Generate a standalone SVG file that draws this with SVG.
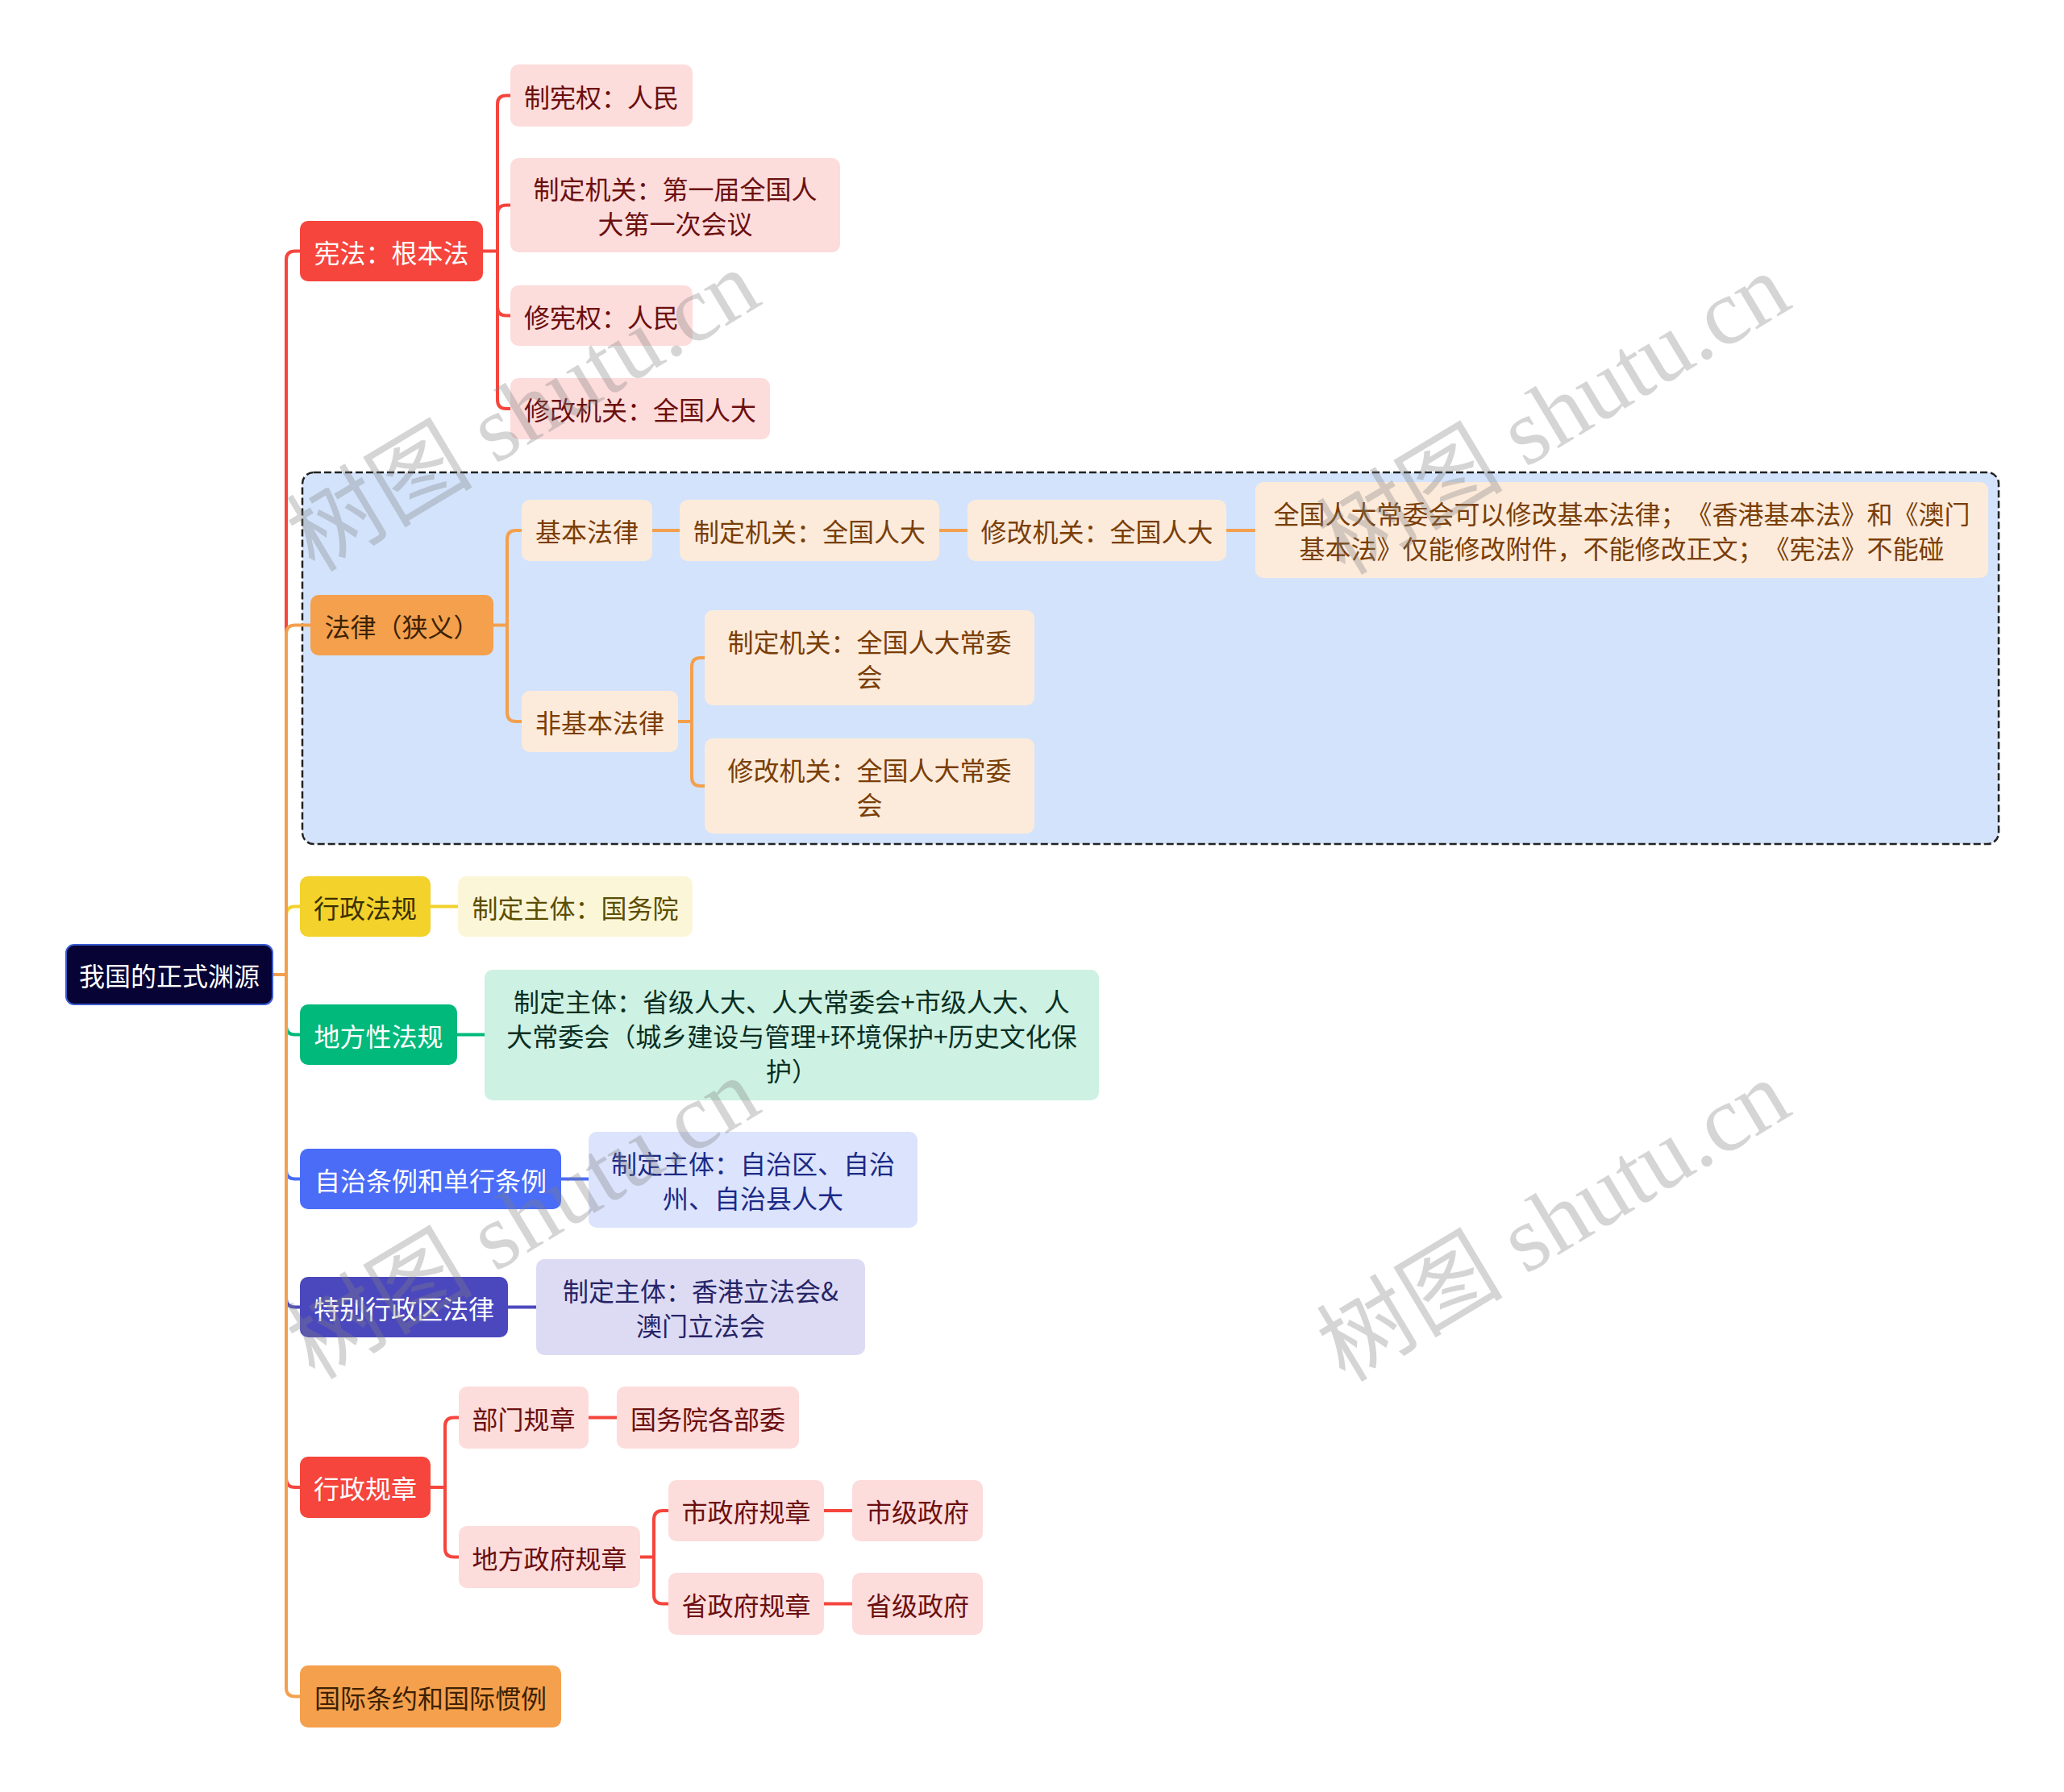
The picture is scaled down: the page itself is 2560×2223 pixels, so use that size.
<svg xmlns="http://www.w3.org/2000/svg" width="2560" height="2223" viewBox="0 0 2560 2223">
<style>
text{font-family:"Noto Sans CJK SC","Noto Sans",sans-serif;font-size:32px;text-anchor:middle;dominant-baseline:central;text-spacing-trim:space-all;font-feature-settings:"halt" 0,"chws" 0}
.c{fill:none;stroke-width:4;stroke-linecap:round}
.cr{stroke:#F5453D}.co{stroke:#F3A04E}.cy{stroke:#F2D22B}.cg{stroke:#00B97B}.cb{stroke:#4A6CF7}.ci{stroke:#4B48BE}
.root rect{fill:#070334;stroke:#3A5BD0;stroke-width:2}
.root text{fill:#fff}
.r1 rect{fill:#F5453D}.r1 text{fill:#fff}
.r2 rect{fill:#FDDCDC}.r2 text{fill:#6B0F0F}
.o1 rect{fill:#F4A04D}.o1 text{fill:#3D2104}
.o2 rect{fill:#FCEBDB}.o2 text{fill:#7A3E07}
.y1 rect{fill:#F2D22B}.y1 text{fill:#3A3000}
.y2 rect{fill:#FCF6D8}.y2 text{fill:#5C4D00}
.g1 rect{fill:#00B97B}.g1 text{fill:#fff}
.g2 rect{fill:#CDF1E2}.g2 text{fill:#0A2E22}
.b1 rect{fill:#4A6CF7}.b1 text{fill:#fff}
.b2 rect{fill:#DCE3FC}.b2 text{fill:#1B2A86}
.i1 rect{fill:#4B48BE}.i1 text{fill:#fff}
.i2 rect{fill:#DDDBF3}.i2 text{fill:#272466}
.wm{font-family:"Liberation Serif","Noto Sans CJK SC",serif;font-size:116px;fill:#808080;fill-opacity:0.33;text-anchor:middle;dominant-baseline:central}
</style>
<rect x="0" y="0" width="2560" height="2223" fill="#fff"/>
<g id="boundary">
<rect x="375" y="586" width="2104" height="461" rx="14" fill="#D3E3FB" stroke="#222" stroke-width="2.5" stroke-dasharray="9 4"/>
</g>
<g id="connectors">
<path class="c cr" d="M338 1209H355V322Q355 311.5 366 311.5H372"/>
<path class="c cy" d="M338 1209H355V1135Q355 1124.5 366 1124.5H372"/>
<path class="c co" d="M338 1209H355V786Q355 775.5 366 775.5H385"/>
<path class="c cg" d="M338 1209H355V1273Q355 1283.5 366 1283.5H372"/>
<path class="c cb" d="M338 1209H355V1452Q355 1462.5 366 1462.5H372"/>
<path class="c ci" d="M338 1209H355V1611Q355 1621.5 366 1621.5H372"/>
<path class="c cr" d="M338 1209H355V1834Q355 1845 366 1845H372"/>
<path class="c co" d="M338 1209H355V2094Q355 2104.5 366 2104.5H372"/>
<path class="c cr" d="M599 311.5H617M617 311.5V129Q617 118.5 628 118.5H633M617 311.5V265Q617 254.5 628 254.5H633M617 311.5V381Q617 391.5 628 391.5H633M617 311.5V496Q617 507 628 507H633"/>
<path class="c co" d="M612 775.5H629M629 775.5V669Q629 658 640 658H647M629 775.5V884Q629 895 640 895H647"/>
<path class="c co" d="M809 658H843M1165 658H1200M1521 658H1557"/>
<path class="c co" d="M841 895H858M858 895V827Q858 816 869 816H874M858 895V964Q858 975 869 975H874"/>
<path class="c cy" d="M534 1124.5H568"/>
<path class="c cg" d="M567 1283.5H601"/>
<path class="c cb" d="M696 1462.5H730"/>
<path class="c ci" d="M630 1621.5H665"/>
<path class="c cr" d="M534 1845H552M552 1845V1769Q552 1758.5 563 1758.5H569M552 1845V1921Q552 1931.5 563 1931.5H569"/>
<path class="c cr" d="M730 1758.5H765"/>
<path class="c cr" d="M794 1931.5H811M811 1931.5V1885Q811 1874 822 1874H829M811 1931.5V1979Q811 1989.5 822 1989.5H829"/>
<path class="c cr" d="M1022 1874H1057M1022 1989.5H1057"/>
</g>
<g id="root" class="root"><rect x="82" y="1172" width="256" height="74" rx="10"/><text x="210" y="1209">我国的正式渊源</text></g>
<g id="n-xianfa" class="r1"><rect x="372" y="274" width="227" height="75" rx="10"/><text x="485.5" y="311.5">宪法：根本法</text></g>
<g id="n-zhixianquan" class="r2"><rect x="633" y="80" width="226" height="77" rx="10"/><text x="746" y="118.5">制宪权：人民</text></g>
<g id="n-zhidingjiguan1" class="r2"><rect x="633" y="196" width="409" height="117" rx="10"/><text x="837.5" y="233">制定机关：第一届全国人</text><text x="837.5" y="276">大第一次会议</text></g>
<g id="n-xiuxianquan" class="r2"><rect x="633" y="354" width="226" height="75" rx="10"/><text x="746" y="391.5">修宪权：人民</text></g>
<g id="n-xiugaijiguan1" class="r2"><rect x="633" y="469" width="322" height="76" rx="10"/><text x="794" y="507">修改机关：全国人大</text></g>
<g id="n-falv" class="o1"><rect x="385" y="738" width="227" height="75" rx="10"/><text x="498.5" y="775.5">法律（狭义）</text></g>
<g id="n-jibenfalv" class="o2"><rect x="647" y="620" width="162" height="76" rx="10"/><text x="728" y="658">基本法律</text></g>
<g id="n-zhiding2" class="o2"><rect x="843" y="620" width="322" height="76" rx="10"/><text x="1004" y="658">制定机关：全国人大</text></g>
<g id="n-xiugai2" class="o2"><rect x="1200" y="620" width="321" height="76" rx="10"/><text x="1360.5" y="658">修改机关：全国人大</text></g>
<g id="n-note" class="o2"><rect x="1557" y="598" width="909" height="119" rx="10"/><text x="2011.5" y="636">全国人大常委会可以修改基本法律；《香港基本法》和《澳门</text><text x="2011.5" y="679">基本法》仅能修改附件，不能修改正文；《宪法》不能碰</text></g>
<g id="n-feijiben" class="o2"><rect x="647" y="857" width="194" height="76" rx="10"/><text x="744" y="895">非基本法律</text></g>
<g id="n-zhiding3" class="o2"><rect x="874" y="757" width="409" height="118" rx="10"/><text x="1078.5" y="794.5">制定机关：全国人大常委</text><text x="1078.5" y="837.5">会</text></g>
<g id="n-xiugai3" class="o2"><rect x="874" y="916" width="409" height="118" rx="10"/><text x="1078.5" y="953.5">修改机关：全国人大常委</text><text x="1078.5" y="996.5">会</text></g>
<g id="n-xingzhengfagui" class="y1"><rect x="372" y="1087" width="162" height="75" rx="10"/><text x="453" y="1124.5">行政法规</text></g>
<g id="n-guowuyuan" class="y2"><rect x="568" y="1087" width="291" height="75" rx="10"/><text x="713.5" y="1124.5">制定主体：国务院</text></g>
<g id="n-difangxing" class="g1"><rect x="372" y="1246" width="195" height="75" rx="10"/><text x="469.5" y="1283.5">地方性法规</text></g>
<g id="n-difangzhuti" class="g2"><rect x="601" y="1203" width="762" height="162" rx="10"/><text x="982" y="1241">制定主体：省级人大、人大常委会+市级人大、人</text><text x="982" y="1284">大常委会（城乡建设与管理+环境保护+历史文化保</text><text x="982" y="1327">护）</text></g>
<g id="n-zizhi" class="b1"><rect x="372" y="1425" width="324" height="75" rx="10"/><text x="534" y="1462.5">自治条例和单行条例</text></g>
<g id="n-zizhizhuti" class="b2"><rect x="730" y="1404" width="408" height="119" rx="10"/><text x="934" y="1442">制定主体：自治区、自治</text><text x="934" y="1485">州、自治县人大</text></g>
<g id="n-tebie" class="i1"><rect x="372" y="1584" width="258" height="75" rx="10"/><text x="501" y="1621.5">特别行政区法律</text></g>
<g id="n-tebiezhuti" class="i2"><rect x="665" y="1562" width="408" height="119" rx="10"/><text x="869" y="1600">制定主体：香港立法会&amp;</text><text x="869" y="1643">澳门立法会</text></g>
<g id="n-xingzhengguizhang" class="r1"><rect x="372" y="1807" width="162" height="76" rx="10"/><text x="453" y="1845">行政规章</text></g>
<g id="n-bumen" class="r2"><rect x="569" y="1720" width="161" height="77" rx="10"/><text x="649.5" y="1758.5">部门规章</text></g>
<g id="n-buwei" class="r2"><rect x="765" y="1720" width="226" height="77" rx="10"/><text x="878" y="1758.5">国务院各部委</text></g>
<g id="n-difangzhengfu" class="r2"><rect x="569" y="1893" width="225" height="77" rx="10"/><text x="681.5" y="1931.5">地方政府规章</text></g>
<g id="n-shizhengfu" class="r2"><rect x="829" y="1836" width="193" height="76" rx="10"/><text x="925.5" y="1874">市政府规章</text></g>
<g id="n-shiji" class="r2"><rect x="1057" y="1836" width="162" height="76" rx="10"/><text x="1138" y="1874">市级政府</text></g>
<g id="n-shengzhengfu" class="r2"><rect x="829" y="1951" width="193" height="77" rx="10"/><text x="925.5" y="1989.5">省政府规章</text></g>
<g id="n-shengji" class="r2"><rect x="1057" y="1951" width="162" height="77" rx="10"/><text x="1138" y="1989.5">省级政府</text></g>
<g id="n-guoji" class="o1"><rect x="372" y="2066" width="324" height="77" rx="10"/><text x="534" y="2104.5">国际条约和国际惯例</text></g>
<g id="watermarks">
<text class="wm" transform="translate(649 510) rotate(-31)">树图 shutu.cn</text>
<text class="wm" transform="translate(1927 514) rotate(-31)">树图 shutu.cn</text>
<text class="wm" transform="translate(649 1512) rotate(-31)">树图 shutu.cn</text>
<text class="wm" transform="translate(1927 1515) rotate(-31)">树图 shutu.cn</text>
</g>
</svg>
